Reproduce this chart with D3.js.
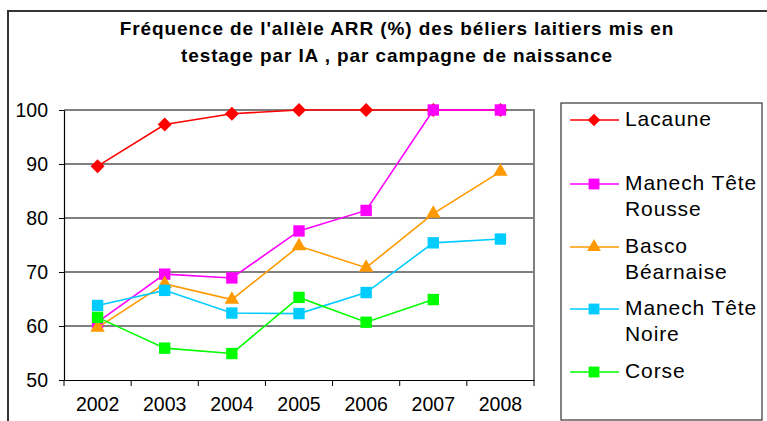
<!DOCTYPE html>
<html><head><meta charset="utf-8">
<script src="https://cdn.jsdelivr.net/npm/d3@7"></script>
<style>body{margin:0;background:#fff;}svg{display:block;font-family:"Liberation Sans",Arial,sans-serif;}</style>
</head><body>
<svg id="c" width="767" height="421"></svg>
<script>
const years = ["2002","2003","2004","2005","2006","2007","2008"];
const lacaune = [89.6, 97.3, 99.3, 100, 100, 100, 100];
const manechTR = [60.7, 69.6, 68.9, 77.6, 81.4, 100, 100];
const basco = [59.7, 67.8, 64.9, 74.8, 70.8, 80.8, 88.6];
const manechTN = [63.8, 66.6, 62.4, 62.3, 66.2, 75.4, 76.1];
const corse = [61.6, 55.9, 54.9, 65.3, 60.7, 64.9, null];
const yTicks = [50, 60, 70, 80, 90, 100];
const titleLines = ["Fréquence de l'allèle ARR (%) des béliers laitiers mis en", "testage par IA , par campagne de naissance"];

const series = [
  {name: ["Lacaune"], values: lacaune, color: "#FF0000", shape: "diamond"},
  {name: ["Manech Tête", "Rousse"], values: manechTR, color: "#FF00FF", shape: "square"},
  {name: ["Basco", "Béarnaise"], values: basco, color: "#FF9900", shape: "triangle"},
  {name: ["Manech Tête", "Noire"], values: manechTN, color: "#00CCFF", shape: "square"},
  {name: ["Corse"], values: corse, color: "#00FF00", shape: "square"}
];

const svg = d3.select("#c");
svg.append("rect").attr("x", 8).attr("y", 11).attr("width", 800).attr("height", 450)
  .attr("fill", "#fff").attr("stroke", "#333").attr("stroke-width", 2);

svg.append("text").attr("x", 397).attr("y", 35).attr("text-anchor", "middle")
  .attr("font-weight", "bold").attr("font-size", 19).attr("letter-spacing", 0.9).selectAll("tspan")
  .data(titleLines).join("tspan").attr("x", 397).attr("dy", (d, i) => i ? 27 : 0).text(d => d);

const pLeft = 64, pRight = 534, pTop = 110, pBottom = 380;
const x = d3.scaleBand().domain(years).range([pLeft, pRight]);
const y = d3.scaleLinear().domain([50, 100]).range([pBottom, pTop]);

svg.append("g").selectAll("line").data(yTicks.filter(t => t > 50 && t < 100)).join("line")
  .attr("x1", pLeft).attr("x2", pRight).attr("y1", d => y(d)).attr("y2", d => y(d))
  .attr("stroke", "#000").attr("stroke-width", 1);
svg.append("path").attr("d", `M${pLeft},${y(100)}H${pRight}V${pBottom}`).attr("fill", "none")
  .attr("stroke", "#808080").attr("stroke-width", 2);

const ya = svg.append("g").attr("transform", `translate(${pLeft},0)`)
  .call(d3.axisLeft(y).tickValues(yTicks).tickSize(5).tickPadding(11).tickSizeOuter(0));
ya.select(".domain").attr("stroke", "#000").attr("stroke-width", 1.2);
ya.selectAll("text").attr("font-size", 19.5).attr("font-family", "Liberation Sans, Arial").attr("fill", "#000");

const xa = svg.append("g").attr("transform", `translate(0,${pBottom})`)
  .call(d3.axisBottom(x).tickSize(0).tickPadding(17));
xa.select(".domain").attr("stroke", "#000").attr("stroke-width", 1.2);
xa.selectAll("text").attr("font-size", 19.5).attr("font-family", "Liberation Sans, Arial").attr("fill", "#000");
xa.selectAll("line.bt").data(years.concat(["end"])).join("line").attr("class", "bt")
  .attr("x1", (d, i) => pLeft + i * x.bandwidth()).attr("x2", (d, i) => pLeft + i * x.bandwidth())
  .attr("y1", 0).attr("y2", 6).attr("stroke", "#000").attr("stroke-width", 1);

function sym(shape) {
  if (shape === "diamond") return d3.symbol().type(d3.symbolDiamond2).size(125)();
  if (shape === "triangle") return d3.symbol().type(d3.symbolTriangle2).size(150)();
  return d3.symbol().type(d3.symbolSquare2).size(165)();
}

const line = d3.line().defined(d => d.v != null).x(d => x(d.year) + x.bandwidth() / 2).y(d => y(d.v));
series.forEach(s => {
  const pts = years.map((yr, i) => ({year: yr, v: s.values[i]}));
  const g = svg.append("g");
  g.append("path").attr("d", line(pts)).attr("fill", "none").attr("stroke", s.color).attr("stroke-width", 1.6);
  g.selectAll("path.m").data(pts.filter(p => p.v != null)).join("path").attr("class", "m")
    .attr("d", sym(s.shape)).attr("fill", s.color)
    .attr("transform", p => `translate(${x(p.year) + x.bandwidth() / 2},${y(p.v)})`);
});

svg.append("rect").attr("x", 561).attr("y", 103).attr("width", 201).attr("height", 317)
  .attr("fill", "#fff").attr("stroke", "#333").attr("stroke-width", 1.2);
const legY = [120, 184, 247, 309, 372];
series.forEach((s, i) => {
  const g = svg.append("g").attr("transform", `translate(0,${legY[i]})`);
  g.append("line").attr("x1", 570).attr("x2", 619).attr("y1", 0).attr("y2", 0).attr("stroke", s.color).attr("stroke-width", 1.6);
  const lsym = s.shape === "diamond" ? d3.symbol().type(d3.symbolDiamond2).size(100)()
    : s.shape === "triangle" ? d3.symbol().type(d3.symbolTriangle2).size(135)()
    : d3.symbol().type(d3.symbolSquare2).size(150)();
  g.append("path").attr("d", lsym).attr("fill", s.color).attr("transform", "translate(594,0)");
  g.append("text").attr("x", 625).attr("y", 6).attr("font-size", 21).attr("letter-spacing", 0.9).attr("fill", "#000")
    .selectAll("tspan").data(s.name).join("tspan").attr("x", 625).attr("dy", (d, j) => j ? 26 : 0).text(d => d);
});
</script>
</body></html>
